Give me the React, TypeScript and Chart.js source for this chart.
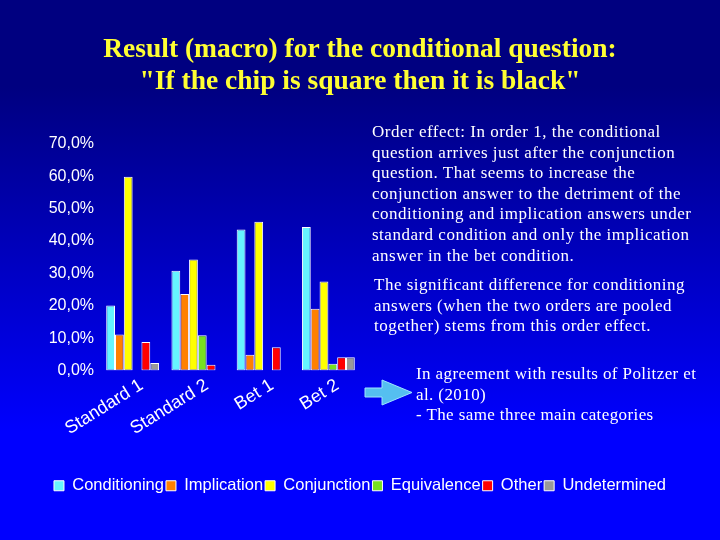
import React, { useEffect, useRef } from "react";
import { Chart, registerables } from "chart.js";

Chart.register(...registerables);

const groups = ["Standard 1", "Standard 2", "Bet 1", "Bet 2"];
const answerTypes = ["Conditioning", "Implication", "Conjunction", "Equivalence", "Other", "Undetermined"];
const answerColors = ["#66f4ff", "#ff8000", "#ffff00", "#77e020", "#ff0000", "#999999"];

// percentages per answer type, in order of groups
const conditioning = [20.1, 30.8, 43.5, 44.3];
const implication = [11.1, 23.6, 4.9, 19.1];
const conjunction = [59.8, 34.3, 45.9, 27.5];
const equivalence = [0, 10.9, 0, 2.1];
const other = [8.8, 1.8, 7.2, 4.1];
const undetermined = [2.3, 0, 0, 4.1];

const seriesValues = [conditioning, implication, conjunction, equivalence, other, undetermined];
const yTicks = [0, 10, 20, 30, 40, 50, 60, 70];

const titleLines = [
  "Result (macro) for the conditional question:",
  "\"If the chip is square then it is black\"",
];

const serif = "'Liberation Serif', 'Times New Roman', serif";
const sans = "'Liberation Sans', Arial, sans-serif";

const ResultChart: React.FC = () => {
  const chartRef = useRef<HTMLCanvasElement>(null);

  useEffect(() => {
    let chartInstance: Chart | null = null;
    if (chartRef.current) {
      chartInstance = new Chart(chartRef.current, {
        type: "bar",
        data: {
          labels: groups,
          datasets: answerTypes.map((name, i) => ({
            label: name,
            data: seriesValues[i],
            backgroundColor: answerColors[i],
            borderColor: "#ffffff",
            borderWidth: 1,
            borderSkipped: false,
            categoryPercentage: 0.81,
            barPercentage: 1,
            yAxisID: "y",
          })),
        },
        options: {
          responsive: false,
          animation: false,
          layout: { padding: { left: 0, right: 0, top: 0, bottom: 36 } },
          plugins: {
            title: {
              display: true,
              text: titleLines,
              color: "#ffff33",
              font: { family: serif, size: 27.5, weight: "bold", lineHeight: 1.16 },
              padding: { top: 34, bottom: 46 },
            },
            legend: {
              position: "bottom",
              labels: {
                color: "#ffffff",
                font: { family: sans, size: 16.5 },
                boxWidth: 10,
                boxHeight: 10,
                padding: 2,
                useBorderRadius: false,
              },
            },
            tooltip: { enabled: false },
          },
          scales: {
            x: {
              grid: { display: false, drawTicks: false },
              border: { display: false },
              ticks: {
                color: "#ffffff",
                font: { family: sans, size: 18 },
                minRotation: 32,
                maxRotation: 32,
                padding: 4,
                labelOffset: 9,
              },
              afterFit: (s: any) => {
                s.height = 105;
              },
            },
            y: {
              min: 0,
              max: 70,
              afterBuildTicks: (s: any) => {
                s.ticks = yTicks.map((v) => ({ value: v }));
              },
              grid: { display: false, drawTicks: false },
              border: { display: false },
              ticks: {
                color: "#ffffff",
                font: { family: sans, size: 16 },
                padding: 6,
                callback: (v: any) => Number(v).toFixed(1).replace(".", ",") + "%",
              },
              afterFit: (s: any) => {
                s.width = 100;
              },
            },
            spacer: {
              type: "linear",
              position: "right",
              grid: { display: false, drawTicks: false },
              border: { display: false },
              ticks: { display: false },
              afterFit: (s: any) => {
                s.width = 359;
              },
            },
          },
        },
      });
    }
    return () => {
      if (chartInstance) {
        chartInstance.destroy();
      }
    };
  }, []);

  return <canvas ref={chartRef} width={720} height={540} style={{ position: "absolute", left: 0, top: 0 }} />;
};

const textStyle: React.CSSProperties = {
  position: "absolute",
  color: "#ffffff",
  fontFamily: serif,
  fontSize: "17px",
  letterSpacing: "0.5px",
  lineHeight: "20.6px",
  margin: 0,
  whiteSpace: "nowrap",
};

const App: React.FC = () => {
  return (
    <div
      style={{
        position: "fixed",
        left: 0,
        top: 0,
        width: 720,
        height: 540,
        overflow: "hidden",
        background: "linear-gradient(to bottom, #000080 0%, #000080 16%, #0000ff 80%, #0000ff 100%)",
      }}
    >
      <ResultChart />
      <div style={{ ...textStyle, left: 372, top: 122 }}>
        Order effect: In order 1, the conditional
        <br />
        question arrives just after the conjunction
        <br />
        question. That seems to increase the
        <br />
        conjunction answer to the detriment of the
        <br />
        conditioning and implication answers under
        <br />
        standard condition and only the implication
        <br />
        answer in the bet condition.
      </div>
      <div style={{ ...textStyle, left: 374, top: 275 }}>
        The significant difference for conditioning
        <br />
        answers (when the two orders are pooled
        <br />
        together) stems from this order effect.
      </div>
      <svg style={{ position: "absolute", left: 0, top: 0 }} width={720} height={540}>
        <polygon
          points="365,388 382,388 382,380 412,392.5 382,405 382,397 365,397"
          fill="#55bff0"
          stroke="#9ee4ff"
          strokeWidth={1}
        />
      </svg>
      <div style={{ ...textStyle, left: 416, top: 364, letterSpacing: "0.4px" }}>
        In agreement with results of Politzer et
        <br />
        al. (2010)
        <br />- The same three main categories
      </div>
    </div>
  );
};

export default App;
